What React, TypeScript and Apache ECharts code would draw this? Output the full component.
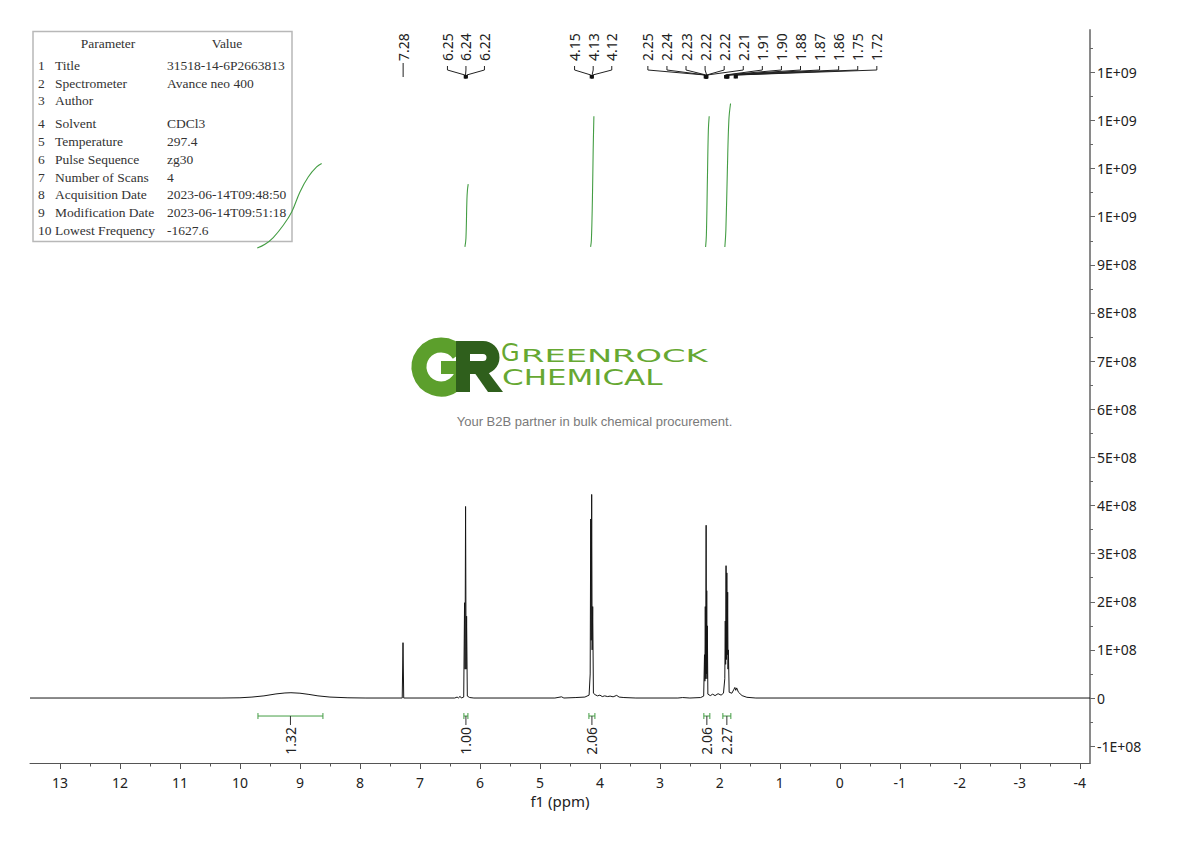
import React, { useEffect, useRef } from 'react';
import * as echarts from 'echarts';

// ---------------- data ----------------
const X_MIN = -4.17;
const X_MAX = 13.5;
const Y_MIN = -1.35e8;
const Y_MAX = 1.388e9;

const X_TICKS = [13, 12, 11, 10, 9, 8, 7, 6, 5, 4, 3, 2, 1, 0, -1, -2, -3, -4];
const X_MINOR_TICKS = [12.5, 11.5, 10.5, 9.5, 8.5, 7.5, 6.5, 5.5, 4.5, 3.5, 2.5, 1.5, 0.5, -0.5, -1.5, -2.5, -3.5];
const Y_TICKS = [-1e8, 0, 1e8, 2e8, 3e8, 4e8, 5e8, 6e8, 7e8, 8e8, 9e8, 1.0e9, 1.1e9, 1.2e9, 1.3e9];
const Y_TICK_LABELS = ['-1E+08', '0', '1E+08', '2E+08', '3E+08', '4E+08', '5E+08', '6E+08', '7E+08', '8E+08', '9E+08', '1E+09', '1E+09', '1E+09', '1E+09'];
const Y_MINOR_TICKS = [-0.5e8, 0.5e8, 1.5e8, 2.5e8, 3.5e8, 4.5e8, 5.5e8, 6.5e8, 7.5e8, 8.5e8, 9.5e8, 10.5e8, 11.5e8, 12.5e8, 13.5e8];

// spectrum: [ppm, intensity]
const SPECTRUM: [number, number][] = [
  [13.5, 0], [10.3, 0], [10.0, 0.005e8], [9.8, 0.02e8], [9.6, 0.045e8], [9.4, 0.085e8],
  [9.25, 0.105e8], [9.15, 0.11e8], [9.0, 0.1e8], [8.85, 0.075e8], [8.7, 0.045e8], [8.5, 0.02e8],
  [8.2, 0.005e8], [7.9, 0],
  [7.295, 0], [7.282, 1.15e8], [7.27, 0],
  [6.42, 0], [6.38, 0.02e8], [6.36, 0], [6.33, 0.035e8], [6.31, 0], [6.27, 0.02e8],
  [6.256, 1.98e8], [6.248, 0.6e8], [6.239, 3.98e8], [6.23, 0.6e8], [6.222, 1.7e8], [6.21, 0.04e8],
  [6.17, 0.01e8], [6.1, 0],
  [4.75, 0], [4.64, 0.025e8], [4.6, 0], [4.4, 0.01e8], [4.25, 0.02e8], [4.18, 0.06e8],
  [4.162, 0.5e8], [4.153, 3.72e8], [4.145, 1.2e8], [4.137, 4.23e8], [4.129, 1.0e8], [4.12, 1.9e8],
  [4.108, 0.1e8], [4.08, 0.07e8], [4.04, 0.045e8], [4.0, 0.06e8], [3.96, 0.03e8], [3.92, 0.045e8],
  [3.87, 0.03e8], [3.83, 0.04e8], [3.78, 0.025e8], [3.72, 0.055e8], [3.68, 0.02e8], [3.6, 0.01e8],
  [3.4, 0], [2.7, 0], [2.62, 0.01e8], [2.5, 0], [2.32, 0.01e8], [2.27, 0.04e8],
  [2.256, 0.9e8], [2.25, 0.35e8], [2.243, 1.9e8], [2.236, 0.4e8], [2.229, 3.59e8], [2.224, 0.5e8],
  [2.219, 2.23e8], [2.214, 0.4e8], [2.209, 1.5e8], [2.2, 0.08e8], [2.16, 0.05e8], [2.12, 0.08e8],
  [2.08, 0.05e8], [2.03, 0.09e8], [1.98, 0.06e8], [1.94, 0.1e8], [1.918, 0.4e8], [1.91, 1.6e8],
  [1.904, 0.7e8], [1.897, 2.75e8], [1.891, 0.8e8], [1.884, 2.6e8], [1.877, 0.9e8], [1.87, 2.2e8],
  [1.864, 0.6e8], [1.858, 1.0e8], [1.845, 0.12e8], [1.8, 0.1e8], [1.77, 0.17e8], [1.75, 0.22e8],
  [1.735, 0.16e8], [1.72, 0.21e8], [1.69, 0.12e8], [1.63, 0.05e8], [1.55, 0.015e8], [1.4, 0],
  [-4.17, 0],
];

// integrals
const INTEGRAL_RANGES: [number, number][] = [[9.70, 8.617], [6.267, 6.2], [4.183, 4.083], [2.267, 2.167], [1.95, 1.817]];
const INTEGRAL_LABELS = ['1.32', '1.00', '2.06', '2.06', '2.27'];
const INTEGRAL_CURVE_1: [number, number][] = [[9.712, 9.351e8], [9.583, 9.428e8], [9.445, 9.568e8], [9.278, 9.823e8], [9.138, 10.1e8], [9.0, 10.516e8], [8.862, 10.827e8], [8.722, 11.035e8], [8.638, 11.106e8]];
const INTEGRAL_CURVE_2: [number, number][] = [[6.25, 9.372e8], [6.233, 9.553e8], [6.217, 10.343e8], [6.208, 10.551e8], [6.195, 10.676e8]];
const INTEGRAL_CURVE_3: [number, number][] = [[4.155, 9.372e8], [4.142, 9.511e8], [4.125, 10.343e8], [4.112, 11.383e8], [4.1, 12.089e8]];
const INTEGRAL_CURVE_4: [number, number][] = [[2.238, 9.372e8], [2.225, 9.615e8], [2.208, 10.759e8], [2.192, 11.798e8], [2.178, 12.089e8]];
const INTEGRAL_CURVE_5: [number, number][] = [[1.917, 9.372e8], [1.9, 9.719e8], [1.875, 10.967e8], [1.85, 12.006e8], [1.822, 12.353e8]];

// peak picking labels
const PEAK_GROUPS: string[][] = [
  ['7.28'],
  ['6.25', '6.24', '6.22'],
  ['4.15', '4.13', '4.12'],
  ['2.25', '2.24', '2.23', '2.22', '2.22', '2.21', '1.91', '1.90', '1.88', '1.87', '1.86', '1.75', '1.72'],
];

// parameter table
const TABLE_PARAMS = ['Title', 'Spectrometer', 'Author', 'Solvent', 'Temperature', 'Pulse Sequence', 'Number of Scans', 'Acquisition Date', 'Modification Date', 'Lowest Frequency'];
const TABLE_VALUES = ['31518-14-6P2663813', 'Avance neo 400', '', 'CDCl3', '297.4', 'zg30', '4', '2023-06-14T09:48:50', '2023-06-14T09:51:18', '-1627.6'];

// ---------------- layout / style ----------------
const FONT = "'Noto Sans', 'Open Sans', sans-serif";
const SERIF = "'Liberation Serif', 'DejaVu Serif', serif";
const GREEN = '#449d44';
const PEAK_LABEL_CENTER = [7.28, 6.233, 4.112, 1.292];
const PEAK_LABEL_STEP = [0, 18.5, 18.6, 19.08];
const TABLE_ROW_Y = [65.3, 83, 100.7, 123.7, 141.3, 159, 177, 194.7, 212.3, 230.3];
const LOGO_LIGHT = '#5c9f2c';
const LOGO_DARK = '#2f5f1c';
const LOGO_TEXT = '#66a832';

function buildOption(): any {
  const peakData: number[][] = [];
  PEAK_GROUPS.forEach((g, gi) => g.forEach((lab, i) => peakData.push([parseFloat(lab), gi, i])));

  const integralSeries = [INTEGRAL_CURVE_1, INTEGRAL_CURVE_2, INTEGRAL_CURVE_3, INTEGRAL_CURVE_4, INTEGRAL_CURVE_5].map((c) => ({
    type: 'line',
    data: c,
    showSymbol: false,
    smooth: 0.4,
    silent: true,
    lineStyle: { color: GREEN, width: 1.1 },
    xAxisIndex: 0,
    yAxisIndex: 0,
    z: 3,
  }));

  const tableEls: any[] = [
    { type: 'rect', shape: { x: 33, y: 31.5, width: 259, height: 210 }, style: { fill: 'none', stroke: '#b8b8b8', lineWidth: 1.5 }, z: 1 },
    { type: 'text', x: 108, y: 43, style: { text: 'Parameter', font: `13.5px ${SERIF}`, fill: '#333', align: 'center', verticalAlign: 'middle' } },
    { type: 'text', x: 227, y: 43, style: { text: 'Value', font: `13.5px ${SERIF}`, fill: '#333', align: 'center', verticalAlign: 'middle' } },
  ];
  TABLE_PARAMS.forEach((p, i) => {
    const y = TABLE_ROW_Y[i];
    tableEls.push({ type: 'text', x: 38, y, style: { text: String(i + 1), font: `13.5px ${SERIF}`, fill: '#333', verticalAlign: 'middle' } });
    tableEls.push({ type: 'text', x: 55, y, style: { text: p, font: `13.5px ${SERIF}`, fill: '#333', verticalAlign: 'middle' } });
    tableEls.push({ type: 'text', x: 167, y, style: { text: TABLE_VALUES[i], font: `13.5px ${SERIF}`, fill: '#333', verticalAlign: 'middle' } });
  });

  const logoEls: any[] = [
    { type: 'arc', shape: { cx: 441, cy: 367, r: 22, startAngle: 0, endAngle: (Math.PI * 2 * 325) / 360, clockwise: true }, style: { stroke: LOGO_LIGHT, lineWidth: 15, fill: 'none' } },
    { type: 'rect', shape: { x: 441, y: 361, width: 30, height: 13 }, style: { fill: LOGO_LIGHT } },
    { type: 'rect', shape: { x: 456, y: 341, width: 14, height: 51 }, style: { fill: LOGO_DARK } },
    { type: 'rect', shape: { x: 462, y: 341, width: 21, height: 13 }, style: { fill: LOGO_DARK } },
    { type: 'arc', shape: { cx: 483, cy: 357.5, r: 10, startAngle: -Math.PI / 2, endAngle: Math.PI / 2, clockwise: true }, style: { stroke: LOGO_DARK, lineWidth: 13, fill: 'none' } },
    { type: 'rect', shape: { x: 462, y: 361, width: 21, height: 13 }, style: { fill: LOGO_DARK } },
    { type: 'polygon', shape: { points: [[474, 372], [488, 372], [503, 392], [488, 392]] }, style: { fill: LOGO_DARK } },
    { type: 'text', x: 501, y: 353, style: { text: 'G', fontSize: 24, fontFamily: 'DejaVu Sans', fill: LOGO_TEXT, verticalAlign: 'middle' } },
    { type: 'text', x: 521, y: 355.5, scaleX: 1.87, style: { text: 'REENROCK', fontSize: 18, fontFamily: 'DejaVu Sans', fill: LOGO_TEXT, verticalAlign: 'middle' } },
    { type: 'text', x: 502, y: 377, scaleX: 1.41, style: { text: 'CHEMICAL', fontSize: 22, fontFamily: 'DejaVu Sans', fill: LOGO_TEXT, verticalAlign: 'middle' } },
    { type: 'text', x: 594.5, y: 421, style: { text: 'Your B2B partner in bulk chemical procurement.', fontSize: 13, fontFamily: "'Liberation Sans', Arial, sans-serif", fill: '#7a7a7a', align: 'center', verticalAlign: 'middle' } },
  ];

  return {
    animation: false,
    backgroundColor: '#ffffff',
    grid: { left: 30, right: 100, top: 30, bottom: 78, containLabel: false },
    xAxis: [
      {
        type: 'value', min: X_MIN, max: X_MAX, inverse: true, position: 'bottom',
        axisLine: { show: true, onZero: false, lineStyle: { color: '#555', width: 1 } },
        axisTick: { show: true, customValues: X_TICKS, length: 6, lineStyle: { color: '#555' } },
        axisLabel: { customValues: X_TICKS, margin: 12, fontSize: 14, color: '#222', fontFamily: FONT },
        splitLine: { show: false },
        name: 'f1 (ppm)', nameLocation: 'middle', nameGap: 29,
        nameTextStyle: { fontSize: 15, color: '#222', fontFamily: FONT },
      },
      {
        type: 'value', min: X_MIN, max: X_MAX, inverse: true, position: 'bottom',
        axisLine: { show: false, onZero: false },
        axisTick: { show: true, customValues: X_MINOR_TICKS, length: 3.5, lineStyle: { color: '#555' } },
        axisLabel: { show: false },
        splitLine: { show: false },
      },
    ],
    yAxis: [
      {
        type: 'value', min: Y_MIN, max: Y_MAX, position: 'right',
        axisLine: { show: true, onZero: false, lineStyle: { color: '#8a8a8a', width: 2 } },
        axisTick: { show: true, customValues: Y_TICKS, length: 5, lineStyle: { color: '#666' } },
        axisLabel: {
          customValues: Y_TICKS, margin: 7, fontSize: 14, color: '#222', fontFamily: FONT,
          formatter: (v: number) => {
            const i = Y_TICKS.findIndex((t) => Math.abs(t - v) < 1);
            return i >= 0 ? Y_TICK_LABELS[i] : '';
          },
        },
        splitLine: { show: false },
      },
      {
        type: 'value', min: Y_MIN, max: Y_MAX, position: 'right',
        axisLine: { show: false, onZero: false },
        axisTick: { show: true, customValues: Y_MINOR_TICKS, length: 3, lineStyle: { color: '#666' } },
        axisLabel: { show: false },
        splitLine: { show: false },
      },
    ],
    series: [
      {
        type: 'line', name: 'spectrum', data: SPECTRUM, showSymbol: false, silent: true,
        lineStyle: { color: '#161616', width: 1 }, xAxisIndex: 0, yAxisIndex: 0, z: 4,
      },
      ...integralSeries,
      {
        type: 'custom', name: 'integrals', xAxisIndex: 0, yAxisIndex: 0, clip: false, silent: true,
        data: INTEGRAL_RANGES.map((r, i) => [r[0], r[1], i]),
        renderItem: (params: any, api: any) => {
          const x1 = api.coord([api.value(0), 0])[0];
          const x2 = api.coord([api.value(1), 0])[0];
          const y0 = api.coord([0, 0])[1];
          const by = y0 + 18;
          const xc = (x1 + x2) / 2;
          const idx = api.value(2);
          const st = { stroke: GREEN, lineWidth: 1 };
          return {
            type: 'group',
            children: [
              { type: 'line', shape: { x1, y1: by, x2, y2: by }, style: st },
              { type: 'line', shape: { x1, y1: by - 3, x2: x1, y2: by + 3 }, style: st },
              { type: 'line', shape: { x1: x2, y1: by - 3, x2, y2: by + 3 }, style: st },
              { type: 'line', shape: { x1: xc, y1: by, x2: xc, y2: by + 9 }, style: { stroke: '#333', lineWidth: 1 } },
              {
                type: 'text', x: xc, y: by + 11, rotation: Math.PI / 2,
                style: { text: INTEGRAL_LABELS[idx], fontSize: 14, fontFamily: FONT, fill: '#222', align: 'right', verticalAlign: 'middle' },
              },
            ],
          };
        },
      },
      {
        type: 'custom', name: 'peaks', xAxisIndex: 0, yAxisIndex: 0, clip: false, silent: true,
        data: peakData,
        renderItem: (params: any, api: any) => {
          const ppm = api.value(0);
          const g = api.value(1);
          const i = api.value(2);
          const n = PEAK_GROUPS[g].length;
          const px = api.coord([ppm, 0])[0];
          const cx = api.coord([PEAK_LABEL_CENTER[g], 0])[0];
          const lx = cx + (i - (n - 1) / 2) * PEAK_LABEL_STEP[g];
          const top = params.coordSys.y;
          const children: any[] = [
            {
              type: 'text', x: lx, y: top + 31, rotation: Math.PI / 2,
              style: { text: PEAK_GROUPS[g][i], fontSize: 14, fontFamily: FONT, fill: '#222', align: 'left', verticalAlign: 'middle' },
            },
          ];
          if (n === 1) {
            children.push({ type: 'line', shape: { x1: px, y1: top + 33, x2: px, y2: top + 47 }, style: { stroke: '#222', lineWidth: 1 } });
          } else {
            children.push({
              type: 'polyline',
              shape: { points: [[lx, top + 36], [lx, top + 40], [px, top + 45], [px, top + 48]] },
              style: { stroke: '#222', lineWidth: 1, fill: 'none' },
            });
            children.push({ type: 'rect', shape: { x: px - 1.2, y: top + 45, width: 2.4, height: 3.5 }, style: { fill: '#111' } });
          }
          return { type: 'group', children };
        },
      },
    ],
    graphic: { elements: [...tableEls, ...logoEls] },
  };
}

export default function App() {
  const ref = useRef<HTMLDivElement>(null);
  useEffect(() => {
    if (!ref.current) return;
    const chart = echarts.init(ref.current, null, { renderer: 'svg' });
    chart.setOption(buildOption());
    return () => chart.dispose();
  }, []);
  return (
    <div
      ref={ref}
      style={{ position: 'fixed', left: 0, top: 0, width: 1190, height: 841, background: '#fff' }}
    />
  );
}
